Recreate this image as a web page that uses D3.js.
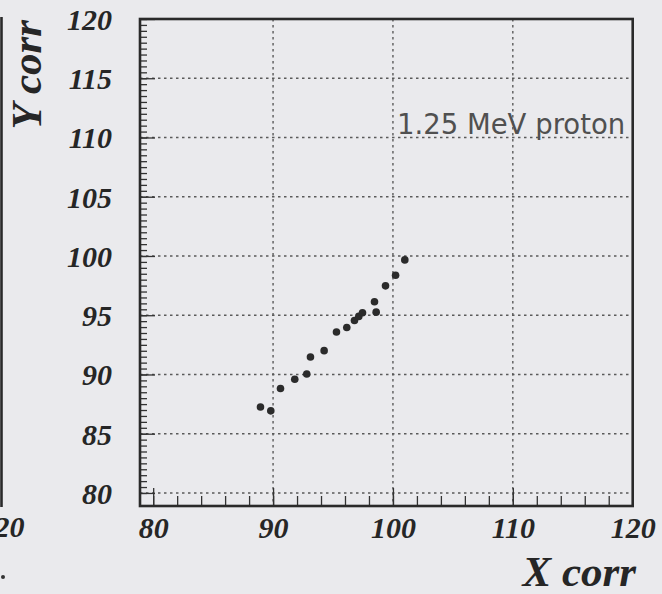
<!DOCTYPE html>
<html>
<head>
<meta charset="utf-8">
<script src="https://cdn.jsdelivr.net/npm/d3@7"></script>
<style>
  html, body { margin: 0; padding: 0; background: #eaeaed; }
  svg { display: block; }
  .tick-label text { font-family: "Liberation Serif", "DejaVu Serif", serif; font-weight: bold; font-style: italic; font-size: 30px; fill: #262626; }
</style>
</head>
<body>
<svg id="chart" width="662" height="594"></svg>
<script>
// Measured beam-spot positions (corrected coordinates)
const xValues = [88.95, 89.81, 90.62, 91.81, 92.81, 93.12, 94.26, 95.29, 96.15, 96.79, 97.15, 97.46, 98.46, 98.60, 99.38, 100.22, 100.99];
const yValues = [87.26, 86.93, 88.81, 89.60, 90.04, 91.47, 92.01, 93.58, 93.97, 94.56, 94.90, 95.21, 96.14, 95.26, 97.48, 98.38, 99.67];

// Axis ticks
const xTicks = [80, 90, 100, 110, 120];
const yTicks = [80, 85, 90, 95, 100, 105, 110, 115, 120];
const xGrid = [90, 100, 110];
const yGrid = [80, 85, 90, 95, 100, 105, 110, 115];

const xTitle = "X corr";
const yTitle = "Y corr";
const label = "1.25 MeV proton";

const svg = d3.select("#chart");
const frame = { left: 140, right: 632.7, top: 19, bottom: 506 };

const x = d3.scaleLinear().domain([78.9, 120]).range([frame.left, frame.right]);
const y = d3.scaleLinear().domain([78.9, 120]).range([frame.bottom, frame.top]);

// Dotted grid
const grid = svg.append("g").attr("stroke", "#5a5a5a").attr("stroke-width", 1.4).attr("stroke-dasharray", "2.5,3.5");
grid.selectAll("line.h").data(yGrid).join("line")
  .attr("x1", frame.left).attr("x2", frame.right)
  .attr("y1", d => y(d)).attr("y2", d => y(d));
grid.selectAll("line.v").data(xGrid).join("line")
  .attr("y1", frame.top).attr("y2", frame.bottom)
  .attr("x1", d => x(d)).attr("x2", d => x(d));

// Inward ticks: minor and major
function tickAxis(axis, transform) {
  const g = svg.append("g").attr("transform", transform).call(axis);
  g.select(".domain").remove();
  g.selectAll(".tick line").attr("stroke", "#333").attr("stroke-width", 1.3);
  return g;
}
tickAxis(d3.axisRight(y).tickValues(d3.range(80, 120.01, 0.5)).tickSize(7).tickFormat(""), `translate(${frame.left},0)`);
tickAxis(d3.axisRight(y).tickValues(yTicks).tickSize(15).tickFormat(""), `translate(${frame.left},0)`);
tickAxis(d3.axisTop(x).tickValues(d3.range(80, 120.01, 2)).tickSize(10).tickFormat(""), `translate(0,${frame.bottom})`);
tickAxis(d3.axisTop(x).tickValues(xTicks).tickSize(18).tickFormat(""), `translate(0,${frame.bottom})`);

// Tick labels
const yLab = svg.append("g").attr("class", "tick-label").attr("transform", "translate(114,0)")
  .call(d3.axisLeft(y).tickValues(yTicks).tickSize(0).tickPadding(2));
yLab.select(".domain").remove();
yLab.selectAll("text").attr("dy", "0.35em");
const xLab = svg.append("g").attr("class", "tick-label").attr("transform", `translate(0,${frame.bottom})`)
  .call(d3.axisBottom(x).tickValues(xTicks).tickSize(0).tickPadding(11));
xLab.select(".domain").remove();
svg.selectAll(".tick-label text").attr("fill", "#262626");

// Frame
svg.append("rect")
  .attr("x", frame.left).attr("y", frame.top)
  .attr("width", frame.right - frame.left).attr("height", frame.bottom - frame.top)
  .attr("fill", "none").attr("stroke", "#2a2a2a").attr("stroke-width", 2.6);

// Data points
svg.append("g").selectAll("circle").data(xValues.map((v, i) => [v, yValues[i]])).join("circle")
  .attr("cx", d => x(d[0])).attr("cy", d => y(d[1])).attr("r", 3.8)
  .attr("fill", "#2b2b2b");

// Label inside the frame
svg.append("text").attr("x", 397).attr("y", 134)
  .attr("font-family", "DejaVu Sans, sans-serif").attr("font-size", 27.5)
  .attr("fill", "#505050").text(label);

// Axis titles
svg.append("text").attr("x", 636).attr("y", 586).attr("text-anchor", "end")
  .attr("font-family", "Liberation Serif, serif").attr("font-weight", "bold").attr("font-style", "italic")
  .attr("font-size", 43).attr("fill", "#262626").text(xTitle);
svg.append("text").attr("transform", "translate(41,20) rotate(-90)").attr("text-anchor", "end")
  .attr("font-family", "Liberation Serif, serif").attr("font-weight", "bold").attr("font-style", "italic")
  .attr("font-size", 43).attr("fill", "#262626").text(yTitle);

// Edge of the neighbouring panel
svg.append("line").attr("x1", 1.5).attr("x2", 1.5).attr("y1", 17).attr("y2", 507)
  .attr("stroke", "#2a2a2a").attr("stroke-width", 2.6);
svg.append("text").attr("x", 2).attr("y", 537).attr("text-anchor", "middle")
  .attr("font-family", "Liberation Serif, serif").attr("font-weight", "bold").attr("font-style", "italic")
  .attr("font-size", 30).attr("fill", "#262626").text("120");
svg.append("circle").attr("cx", 3).attr("cy", 577).attr("r", 2).attr("fill", "#333");
</script>
</body>
</html>
